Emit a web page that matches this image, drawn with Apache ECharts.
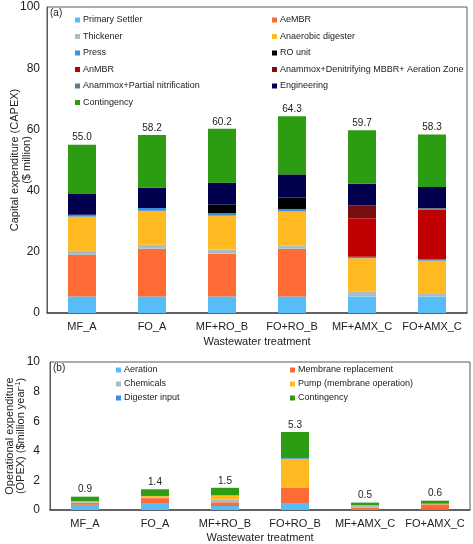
<!DOCTYPE html>
<html>
<head>
<meta charset="utf-8">
<script src="https://cdn.jsdelivr.net/npm/echarts@6/dist/echarts.min.js"></script>
<style>
html,body{margin:0;padding:0;background:#fff;}
#c{width:473px;height:544px;}
</style>
</head>
<body>
<div id="c"></div>
<script>
// ---------- DATA ----------
var categories = ['MF_A', 'FO_A', 'MF+RO_B', 'FO+RO_B', 'MF+AMX_C', 'FO+AMX_C'];

// CAPEX ($ million)
var primarySettler    = [5.4, 5.4, 5.4, 5.4, 5.4, 5.4];
var aeMBR             = [13.6, 15.6, 14.0, 15.6, 0, 0];
var thickener         = [1.3, 1.3, 1.3, 1.1, 1.5, 1.1];
var anaerobicDigester = [11.2, 11.1, 11.1, 11.1, 11.0, 10.6];
var press             = [0.6, 0.9, 0.8, 0.8, 0.5, 0.5];
var roUnit            = [0, 0, 2.8, 3.7, 0, 0];
var anMBR             = [0, 0, 0, 0, 12.6, 16.2];
var amxDenitMBBR      = [0, 0, 0, 0, 4.1, 0];
var amxPartialNit     = [0, 0, 0, 0, 0, 0.5];
var engineering       = [6.8, 6.7, 7.2, 7.6, 7.2, 6.9];
var contingencyCapex  = [16.1, 17.2, 17.6, 19.0, 17.4, 17.1];
var capexTotals       = [55.0, 58.2, 60.2, 64.3, 59.7, 58.3];
var capexTicks        = [0, 20, 40, 60, 80, 100];

// OPEX ($million year^-1)
var aeration          = [0.35, 0.47, 0.27, 0.47, 0.05, 0.02];
var membraneReplace   = [0.12, 0.33, 0.25, 1.05, 0.12, 0.36];
var chemicals         = [0.06, 0.02, 0.17, 0.02, 0.12, 0.02];
var pumpMembrane      = [0.05, 0.12, 0.29, 1.92, 0.02, 0.02];
var digesterInput     = [0.02, 0.01, 0.02, 0.05, 0.02, 0.01];
var contingencyOpex   = [0.30, 0.45, 0.50, 1.76, 0.17, 0.20];
var opexTotals        = [0.9, 1.4, 1.5, 5.3, 0.5, 0.6];
var opexTicks         = [0, 2, 4, 6, 8, 10];

// ---------- STYLE ----------
var FONT = '"Liberation Sans", Arial, sans-serif';
var C = {
  ps: '#56BDF9', aembr: '#FF6B35', thick: '#A8BEC4', ad: '#FFBA22', press: '#3B8EE0',
  ro: '#000000', anmbr: '#C00000', denit: '#7A0E0E', pn: '#5F7D89', eng: '#00004E',
  cont: '#2C9C12'
};

function bar(name, data, color, grid, totals) {
  var s = {
    name: name, type: 'bar', stack: 's' + grid, data: data,
    xAxisIndex: grid, yAxisIndex: grid, barWidth: 28,
    itemStyle: { color: color }, emphasis: { disabled: true }, animation: false
  };
  if (totals) {
    s.label = {
      show: true, position: 'top', distance: 2, color: '#222', fontFamily: FONT, fontSize: 10,
      formatter: function (p) { return totals[p.dataIndex].toFixed(1); }
    };
  }
  return s;
}

var legendBase = {
  orient: 'vertical', icon: 'rect', itemWidth: 5, itemHeight: 5, selectedMode: false,
  textStyle: { fontFamily: FONT, fontSize: 9, color: '#222', lineHeight: 10, padding: [0, 0, 0, -2] }
};
function legend(extra) { return Object.assign({}, legendBase, extra); }

var axisLabelStyle = { fontFamily: FONT, fontSize: 12, color: '#222' };
var nameStyle = { fontFamily: FONT, fontSize: 11, color: '#222' };

var option = {
  backgroundColor: '#fff',
  animation: false,
  grid: [
    { left: 47, top: 7, width: 420, height: 306, show: true, borderColor: '#5a5a5a', borderWidth: 1, backgroundColor: 'transparent', containLabel: false, outerBoundsMode: 'none' },
    { left: 50, top: 362, width: 420, height: 148, show: true, borderColor: '#5a5a5a', borderWidth: 1, backgroundColor: 'transparent', containLabel: false, outerBoundsMode: 'none' }
  ],
  legend: [
    legend({ left: 70, top: 10, itemGap: 6.5, data: ['Primary Settler', 'Thickener', 'Press', 'AnMBR', 'Anammox+Partial nitrification', 'Contingency'] }),
    legend({ left: 267, top: 10, itemGap: 6.5, data: ['AeMBR', 'Anaerobic digester', 'RO unit', 'Anammox+Denitrifying MBBR+ Aeration Zone', 'Engineering'] }),
    legend({ left: 111, top: 360, itemGap: 4, data: ['Aeration', 'Chemicals', 'Digester input'] }),
    legend({ left: 285, top: 360, itemGap: 4, data: ['Membrane replacement', 'Pump (membrane operation)', 'Contingency '] })
  ],
  xAxis: [0, 1].map(function (g) {
    return {
      type: 'category', gridIndex: g, data: categories,
      axisTick: { show: false },
      axisLine: { lineStyle: { color: '#4a4a4a', width: 1.5 } },
      axisLabel: { fontFamily: FONT, fontSize: 11, color: '#222', margin: 8, interval: 0 },
      name: 'Wastewater treatment', nameLocation: 'middle', nameGap: g === 0 ? 23 : 22,
      nameMoveOverlap: false,
      nameTextStyle: nameStyle
    };
  }),
  yAxis: [
    {
      type: 'value', gridIndex: 0, min: capexTicks[0], max: capexTicks[capexTicks.length - 1], interval: 20,
      splitLine: { show: false }, axisTick: { show: false },
      axisLine: { show: true, lineStyle: { color: '#5a5a5a' } },
      axisLabel: Object.assign({ margin: 7 }, axisLabelStyle),
      name: 'Capital expenditure (CAPEX)\n($ million)', nameLocation: 'middle', nameGap: 14,
      nameMoveOverlap: false,
      nameTextStyle: Object.assign({ lineHeight: 12, align: 'center' }, nameStyle)
    },
    {
      type: 'value', gridIndex: 1, min: opexTicks[0], max: opexTicks[opexTicks.length - 1], interval: 2,
      splitLine: { show: false }, axisTick: { show: false },
      axisLine: { show: true, lineStyle: { color: '#5a5a5a' } },
      axisLabel: Object.assign({ margin: 10 }, axisLabelStyle),
      name: '{a|Operational expenditure}\n{a|(OPEX) ($million year}{s|-1}{a|)}', nameLocation: 'middle', nameGap: 24,
      nameMoveOverlap: false,
      nameTextStyle: {
        align: 'center',
        rich: {
          a: { fontFamily: FONT, fontSize: 11, color: '#222', lineHeight: 11 },
          s: { fontFamily: FONT, fontSize: 7, color: '#222', lineHeight: 11, verticalAlign: 'top', padding: [0, 0, 5, 0] }
        }
      }
    }
  ],
  series: [
    bar('Primary Settler', primarySettler, C.ps, 0),
    bar('AeMBR', aeMBR, C.aembr, 0),
    bar('Thickener', thickener, C.thick, 0),
    bar('Anaerobic digester', anaerobicDigester, C.ad, 0),
    bar('Press', press, C.press, 0),
    bar('RO unit', roUnit, C.ro, 0),
    bar('AnMBR', anMBR, C.anmbr, 0),
    bar('Anammox+Denitrifying MBBR+ Aeration Zone', amxDenitMBBR, C.denit, 0),
    bar('Anammox+Partial nitrification', amxPartialNit, C.pn, 0),
    bar('Engineering', engineering, C.eng, 0),
    bar('Contingency', contingencyCapex, C.cont, 0, capexTotals),

    bar('Aeration', aeration, C.ps, 1),
    bar('Membrane replacement', membraneReplace, C.aembr, 1),
    bar('Chemicals', chemicals, C.thick, 1),
    bar('Pump (membrane operation)', pumpMembrane, C.ad, 1),
    bar('Digester input', digesterInput, C.press, 1),
    bar('Contingency ', contingencyOpex, C.cont, 1, opexTotals)
  ],
  graphic: [
    { type: 'text', left: 50, top: 8, style: { text: '(a)', font: '10px ' + FONT, fill: '#222' } },
    { type: 'text', left: 53, top: 363, style: { text: '(b)', font: '10px ' + FONT, fill: '#222' } }
  ]
};

var chart = echarts.init(document.getElementById('c'), null, { renderer: 'canvas' });
chart.setOption(option);
</script>
</body>
</html>
